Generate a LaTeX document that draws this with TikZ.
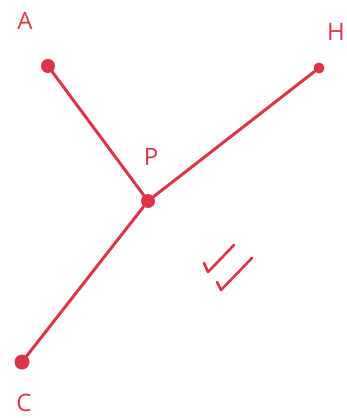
\documentclass[tikz,border=0pt]{standalone}
\usepackage{fontspec}
\setmainfont{Open Sans}
\definecolor{pen}{RGB}{222,52,72}
\begin{document}
\begin{tikzpicture}[x=1pt,y=-1pt,
  stroke/.style={draw=pen,line width=3pt,line cap=round,line join=round},
  dotnode/.style={circle,fill=pen,inner sep=0pt,minimum size=#1},
  lbl/.style={text=pen,font=\fontsize{24}{26}\selectfont,inner sep=0pt}]
\useasboundingbox (0,0) rectangle (347,418);
\node[dotnode=14pt] (A) at (48,66) {};
\node[dotnode=11pt] (H) at (319,68) {};
\node[dotnode=14pt] (P) at (148,201) {};
\node[dotnode=15pt] (C) at (22,362) {};
\node[lbl] (la) at (25,21) {A};
\node[lbl] (lh) at (336,32) {H};
\node[lbl] (lp) at (151,157) {P};
\node[lbl] (lc) at (24,403) {C};
\draw[stroke] (A) -- (P);
\draw[stroke] (H) -- (P);
\draw[stroke] (C) -- (P);
\coordinate (k1a) at (204,263);
\coordinate (k1b) at (208,272);
\coordinate (k1c) at (234,245);
\coordinate (k2a) at (217,282);
\coordinate (k2b) at (221,290);
\coordinate (k2c) at (252,258);
\draw[stroke,line width=2.6pt] (k1a) -- (k1b) -- (k1c);
\draw[stroke,line width=2.6pt] (k2a) -- (k2b) -- (k2c);
\end{tikzpicture}
\end{document}
